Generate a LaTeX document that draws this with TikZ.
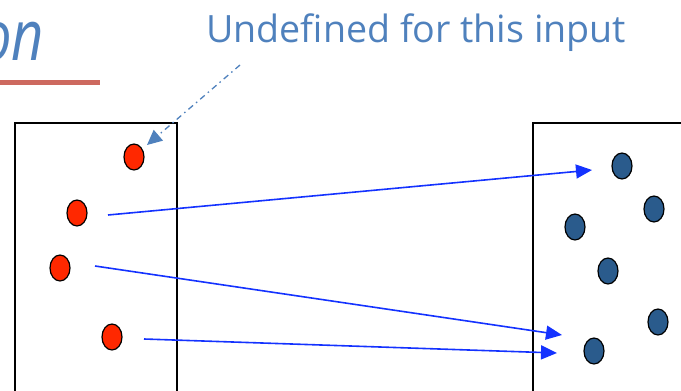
\documentclass[tikz,border=0pt]{standalone}
\usepackage{fontspec}
\setmainfont{Open Sans}
\usepackage{tikz}
\usetikzlibrary{shapes.geometric,arrows.meta,positioning}
\definecolor{dotred}{RGB}{255,40,0}
\definecolor{dotblue}{RGB}{42,91,140}
\definecolor{noteblue}{RGB}{79,129,189}
\definecolor{arrowblue}{RGB}{20,50,255}
\definecolor{barred}{RGB}{205,105,95}

\tikzset{
  indot/.style={ellipse, draw=black, line width=1.2pt, fill=dotred, minimum width=20pt, minimum height=26pt, inner sep=0pt},
  outdot/.style={ellipse, draw=black, line width=1.2pt, fill=dotblue, minimum width=20pt, minimum height=26pt, inner sep=0pt},
  mapto/.style={arrowblue, line width=1.6pt, -{Triangle[length=16pt,width=14pt]}},
}

\begin{document}
\begin{tikzpicture}[x=1pt,y=-1pt]
                \clip (0,0) rectangle (681,391);
                %Title
                \node[anchor=base east, inner sep=0pt, text=noteblue, xscale=0.8, font=\fontsize{70}{70}\selectfont\itshape] (title) at (44,60) {on};
                \draw[barred, line width=5pt] (0,82) -- (100,82);
                \node[anchor=base west, inner sep=0pt, text=noteblue, font=\fontsize{37.6}{38}\selectfont] (note) at (206,42) {Undefined for this input};
                %Sets
                \draw[line width=1.6pt] (15,400) -- (15,123) -- (177,123) -- (177,400);
                \draw[line width=1.6pt] (533,400) -- (533,123) -- (690,123);
                %Domain
                \node[indot] (x1) at (134,157) {};
                \node[indot] (x2) at (77,213) {};
                \node[indot] (x3) at (60,268) {};
                \node[indot] (x4) at (112,337) {};
                %Codomain
                \node[outdot] (y1) at (622,166) {};
                \node[outdot] (y2) at (654,209) {};
                \node[outdot] (y3) at (575,227) {};
                \node[outdot] (y4) at (608,271) {};
                \node[outdot] (y5) at (658,322) {};
                \node[outdot] (y6) at (594,351) {};
                %Arrow ends
                \coordinate (s2) at (108,215);
                \coordinate (s3) at (95,266);
                \coordinate (s4) at (144,339);
                \coordinate (t1) at (592,170);
                \coordinate (t5) at (562,335);
                \coordinate (t6) at (557,353);
                \coordinate (n1) at (240,65);
                \coordinate (n2) at (147,145);
                %Mapping
                \draw[mapto] (s2) -- (t1);
                \draw[mapto] (s3) -- (t5);
                \draw[mapto] (s4) -- (t6);
                \draw[noteblue, line width=1.3pt, dash pattern=on 6pt off 4pt on 1.5pt off 4pt, -{Triangle[length=15pt,width=14pt]}] (n1) -- (n2);
\end{tikzpicture}
\end{document}
